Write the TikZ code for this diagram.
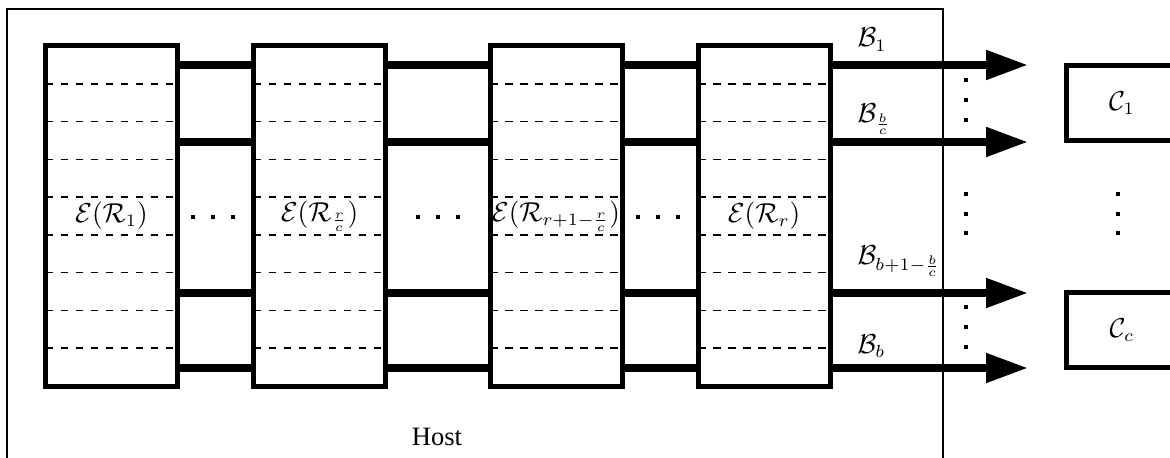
\documentclass[tikz,border=0pt]{standalone}
\usepackage[no-math]{fontspec}
\setmainfont{Liberation Serif}
\usetikzlibrary{arrows.meta}
\begin{document}
\begin{tikzpicture}[x=0.4pt,y=-0.4pt,
  every node/.style={font=\fontsize{10.6pt}{12.7pt}\selectfont},
  ebox/.style={draw,line width=2pt,minimum width=52.8pt,minimum height=136pt,inner sep=0pt},
  cbox/.style={draw,line width=2pt,minimum width=44.8pt,minimum height=30pt,inner sep=0pt},
  conn/.style={line width=3.2pt},
  arr/.style={line width=3.2pt,-{Triangle[length=16.8pt,width=11.2pt]}},
  dashline/.style={line width=0.65pt,dash pattern=on 3pt off 3pt},
  frame/.style={line width=0.9pt},
  sq/.style={fill=black,minimum size=1.9pt,inner sep=0pt,draw=none},
  lab/.style={anchor=base west,inner sep=0pt}]
\clip (0,0) rectangle (1170,458);
\fill[white] (0,0) rectangle (1170,458);
% host frame
\draw[frame] (7,9) rectangle (943,475);
\node (host) at (437,437) {Host};
% big boxes
\node[ebox] (b1) at (111.5,216) {$\mathcal{E}(\mathcal{R}_1)$};
\node[ebox] (b2) at (319.5,216) {$\mathcal{E}(\mathcal{R}_{\frac{r}{c}})$};
\node[ebox] (b3) at (556,216) {$\mathcal{E}(\mathcal{R}_{r+1-\frac{r}{c}})$};
\node[ebox] (b4) at (764,216) {$\mathcal{E}(\mathcal{R}_r)$};
% dashed lines
\foreach \b in {b1,b2,b3,b4}{
  \foreach \i in {1,...,8}{
    \pgfmathsetmacro\yy{46+\i*37.78}
    \draw[dashline] ([xshift=1pt]\b.west |- 0,\yy) -- ([xshift=-1pt]\b.east |- 0,\yy);
  }
}
% connectors between boxes
\foreach \yy in {65,142,293,368}{
  \draw[conn] (b1.east |- 0,\yy) -- (b2.west |- 0,\yy);
  \draw[conn] (b2.east |- 0,\yy) -- (b3.west |- 0,\yy);
  \draw[conn] (b3.east |- 0,\yy) -- (b4.west |- 0,\yy);
}
% arrow ends
\coordinate (t1) at (1028,65);
\coordinate (t2) at (1028,142);
\coordinate (t3) at (1028,293);
\coordinate (t4) at (1028,368);
\draw[arr] (b4.east |- t1) -- (t1);
\draw[arr] (b4.east |- t2) -- (t2);
\draw[arr] (b4.east |- t3) -- (t3);
\draw[arr] (b4.east |- t4) -- (t4);
% labels
\node[lab] (l1) at (857,47) {$\mathcal{B}_1$};
\node[lab] (l2) at (857,123) {$\mathcal{B}_{\frac{b}{c}}$};
\node[lab] (l3) at (857,265) {$\mathcal{B}_{b+1-\frac{b}{c}}$};
\node[lab] (l4) at (857,353) {$\mathcal{B}_b$};
% C boxes
\node[cbox] (c1) at (1122,103.5) {$\mathcal{C}_1$};
\node[cbox] (cc) at (1122,330) {$\mathcal{C}_c$};
% dots
\foreach \x in {193,213,233,418,438,458,638,658,678}{
  \node[sq] at (\x,217) {};
}
\foreach \yy in {80,100,120,194,214,233,307,327,347}{
  \node[sq] at (966,\yy) {};
}
\foreach \yy in {194,214,233}{
  \node[sq] at (1118,\yy) {};
}
\end{tikzpicture}
\end{document}
